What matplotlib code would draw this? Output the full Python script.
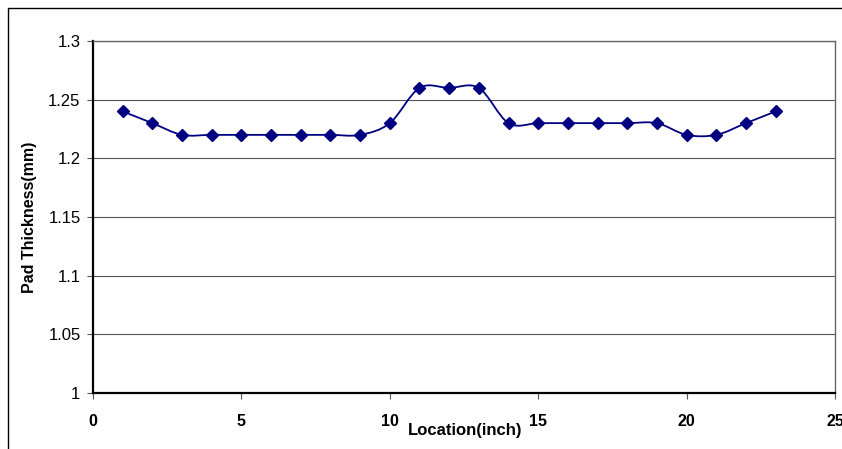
import matplotlib
matplotlib.use("Agg")
import matplotlib.pyplot as plt
from matplotlib.path import Path
from matplotlib.patches import PathPatch, Rectangle
import numpy as np

plt.rcParams['font.family'] = ['Liberation Sans', 'DejaVu Sans']

location = [1, 2, 3, 4, 5, 6, 7, 8, 9, 10, 11, 12, 13, 14, 15, 16, 17, 18, 19, 20, 21, 22, 23]
thickness = [1.24, 1.23, 1.22, 1.22, 1.22, 1.22, 1.22, 1.22, 1.22, 1.23, 1.26, 1.26, 1.26,
             1.23, 1.23, 1.23, 1.23, 1.23, 1.23, 1.22, 1.22, 1.23, 1.24]
xticks = [0, 5, 10, 15, 20, 25]
yticks = [1, 1.05, 1.1, 1.15, 1.2, 1.25, 1.3]
ytick_labels = ["1", "1.05", "1.1", "1.15", "1.2", "1.25", "1.3"]

W, H = 842, 449
fig = plt.figure(figsize=(W / 100, H / 100), dpi=100)
fig.patch.set_facecolor('white')
# outer chart border (Excel chart area)
fig.patches.append(Rectangle((8 / W, -0.2), 1.2, (H - 8) / H + 0.2, transform=fig.transFigure,
                             fill=False, edgecolor='black', linewidth=1.0))

ax = fig.add_axes([93 / W, (H - 393) / H, (835 - 93) / W, (393 - 41) / H])
ax.set_xlim(0, 25)
ax.set_ylim(1, 1.3)

# smoothed line (Excel-style Bezier smoothing)
x = np.array(location, dtype=float)
y = np.array(thickness, dtype=float)
n = len(x)
verts = [(x[0], y[0])]
codes = [Path.MOVETO]
for i in range(n - 1):
    p0 = np.array([x[max(i - 1, 0)], y[max(i - 1, 0)]])
    p1 = np.array([x[i], y[i]])
    p2 = np.array([x[i + 1], y[i + 1]])
    p3 = np.array([x[min(i + 2, n - 1)], y[min(i + 2, n - 1)]])
    c1 = p1 + (p2 - p0) / 6.0
    c2 = p2 - (p3 - p1) / 6.0
    verts += [tuple(c1), tuple(c2), tuple(p2)]
    codes += [Path.CURVE4] * 3
ax.add_patch(PathPatch(Path(verts, codes), facecolor='none', edgecolor='#000080',
                       linewidth=1.3, zorder=3))
ax.plot(location, thickness, linestyle='none', marker='D', markersize=6.5,
        color='#000080', zorder=4)

ax.set_yticks(yticks)
ax.set_yticklabels(ytick_labels)
ax.set_xticks(xticks)
ax.grid(axis='y', color='#555555', linewidth=0.8)
ax.set_axisbelow(True)

for s in ['top', 'right']:
    ax.spines[s].set_color('#666666')
    ax.spines[s].set_linewidth(1.0)
for s in ['left', 'bottom']:
    ax.spines[s].set_color('black')
    ax.spines[s].set_linewidth(1.6)

ax.tick_params(axis='y', direction='out', length=4, width=0.8, color='#555555', pad=5,
               labelsize=12)
ax.tick_params(axis='x', direction='out', length=4, width=0.8, color='#555555', pad=11,
               labelsize=11.5)
for lab in ax.get_xticklabels():
    lab.set_fontweight('bold')

ax.set_xlabel('Location(inch)', fontsize=12, fontweight='bold')
ax.xaxis.set_label_coords((465 - 93) / 742, -0.085)
ax.xaxis.label.set_va('top')
ax.set_ylabel('Pad Thickness(mm)', fontsize=11.5, fontweight='bold')
ax.yaxis.set_label_coords((37 - 93) / 742, 0.5)

fig.savefig('out.png', dpi=100, facecolor='white')
